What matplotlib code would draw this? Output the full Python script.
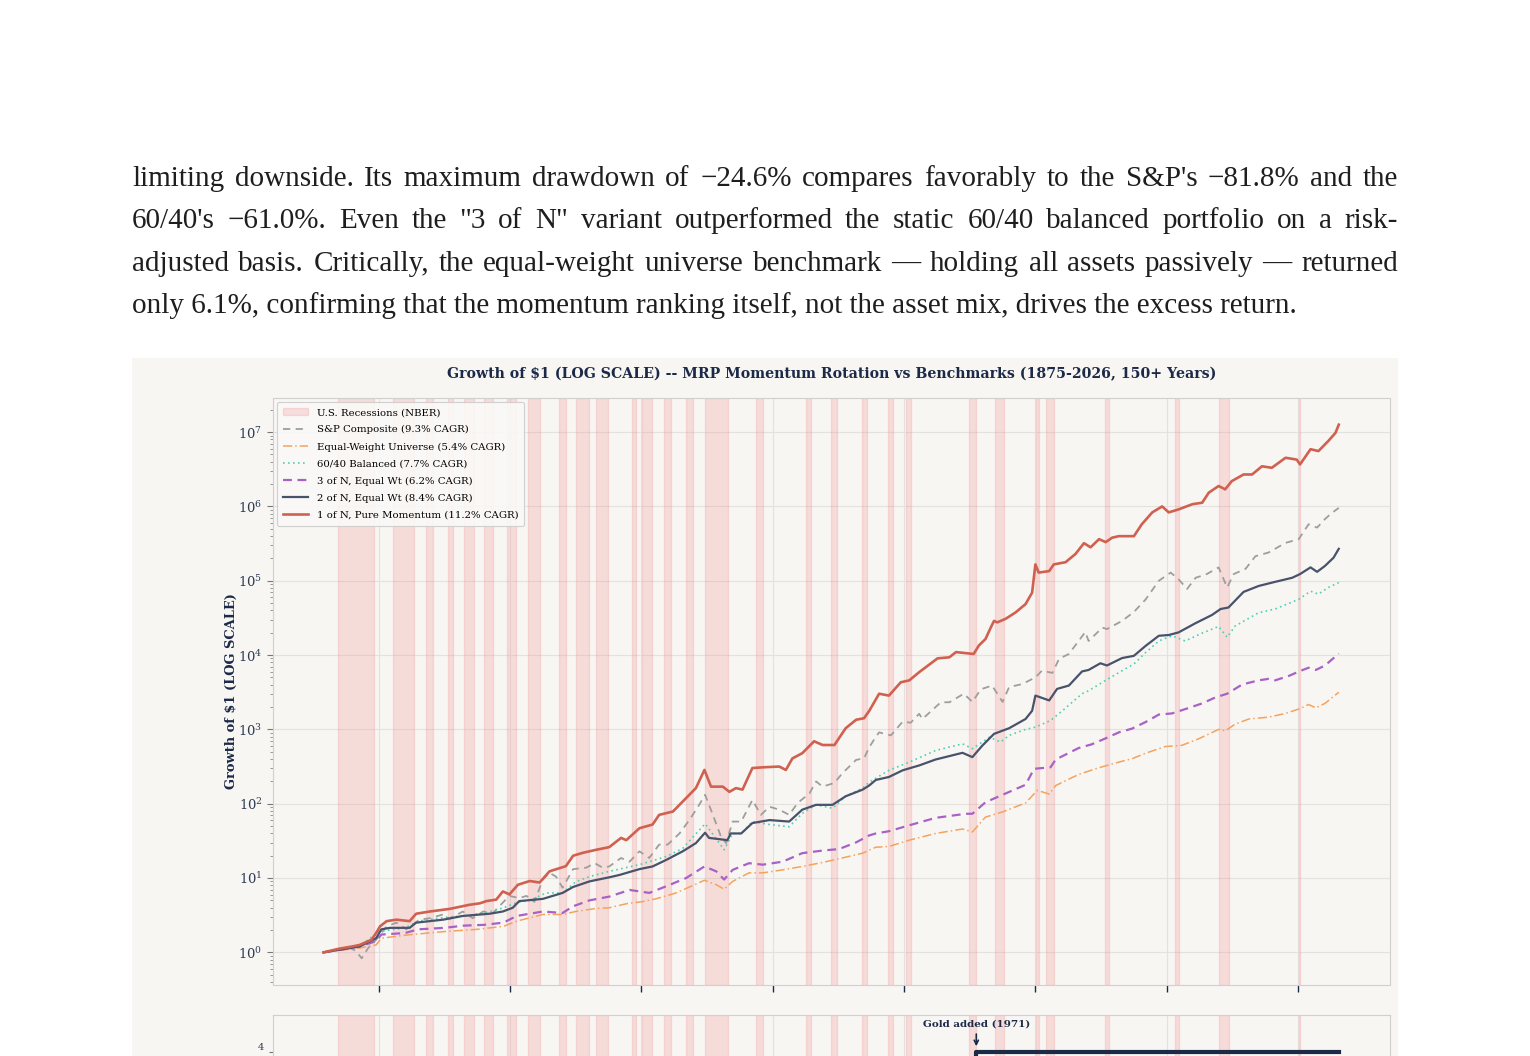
import numpy as np
import matplotlib
matplotlib.use("Agg")
import matplotlib.pyplot as plt
from matplotlib.patches import Rectangle, Patch
from matplotlib.lines import Line2D

plt.rcParams['font.family'] = ['DejaVu Serif']
plt.rcParams['mathtext.fontset'] = 'dejavuserif'

W, H = 1530, 1056

# ---- text above the chart ----
para_lines = [
    "limiting downside. Its maximum drawdown of \u221224.6% compares favorably to the S&P's \u221281.8% and the",
    "60/40's \u221261.0%. Even the \"3 of N\" variant outperformed the static 60/40 balanced portfolio on a risk-",
    "adjusted basis. Critically, the equal-weight universe benchmark \u2014 holding all assets passively \u2014 returned",
    "only 6.1%, confirming that the momentum ranking itself, not the asset mix, drives the excess return.",
]

# ---- NBER recessions (peak, trough) ----
recessions = [
    (1873.79, 1879.21), (1882.21, 1885.38), (1887.21, 1888.29), (1890.54, 1891.38),
    (1893.04, 1894.46), (1895.96, 1897.46), (1899.46, 1900.96), (1902.71, 1904.63),
    (1907.38, 1908.46), (1910.04, 1912.04), (1913.04, 1914.96), (1918.63, 1919.21),
    (1920.04, 1921.54), (1923.38, 1924.54), (1926.79, 1927.88), (1929.63, 1933.21),
    (1937.38, 1938.46), (1945.13, 1945.79), (1948.88, 1949.79), (1953.54, 1954.38),
    (1957.63, 1958.29), (1960.29, 1961.13), (1969.96, 1970.88), (1973.88, 1975.21),
    (1980.04, 1980.54), (1981.54, 1982.88), (1990.54, 1991.21), (2001.21, 2001.88),
    (2007.96, 2009.46), (2020.13, 2020.29),
]

# ---- series as log10(growth of $1) ----
red_yr = [1871.6, 1874.0, 1876.0, 1877.1, 1878.9, 1879.6, 1880.2, 1881.2, 1882.7, 1884.7,
          1885.7, 1887.8, 1890.8, 1893.8, 1895.4, 1896.4, 1897.9, 1898.9, 1899.9, 1901.2,
          1903.0, 1904.5, 1906.0, 1908.5, 1909.6, 1911.1, 1913.1, 1915.1, 1916.9, 1917.7,
          1919.7, 1921.7, 1922.7, 1924.8, 1926.3, 1928.3, 1929.6, 1930.6, 1932.4, 1933.4,
          1934.4, 1935.4, 1936.9, 1938.5, 1941.0, 1942.0, 1943.0, 1944.5, 1946.3, 1947.6,
          1949.4, 1951.1, 1952.7, 1953.9, 1954.7, 1956.2, 1957.7, 1959.5, 1960.8, 1962.3,
          1965.1, 1966.9, 1967.9, 1970.6, 1971.4, 1972.4, 1973.2, 1973.7, 1974.2, 1975.5,
          1977.0, 1978.5, 1979.5, 1980.0, 1980.5, 1982.1, 1982.8, 1984.6, 1986.1, 1987.4,
          1988.4, 1989.7, 1990.7, 1991.7, 1992.7, 1995.0, 1996.2, 1997.8, 1999.3, 2000.3,
          2001.8, 2003.9, 2005.4, 2006.4, 2007.9, 2008.9, 2009.9, 2011.7, 2013.0, 2014.5,
          2016.0, 2018.1, 2019.8, 2020.3, 2021.9, 2023.1, 2024.6, 2025.7, 2026.2]
red_log = [0.00, 0.05, 0.08, 0.10, 0.17, 0.26, 0.35, 0.42, 0.44, 0.42,
           0.52, 0.55, 0.585, 0.64, 0.66, 0.69, 0.71, 0.82, 0.78, 0.91,
           0.96, 0.94, 1.09, 1.16, 1.30, 1.34, 1.38, 1.416, 1.54, 1.51,
           1.67, 1.72, 1.85, 1.895, 2.03, 2.21, 2.455, 2.23, 2.23, 2.16,
           2.21, 2.19, 2.48, 2.49, 2.50, 2.455, 2.61, 2.68, 2.84, 2.79,
           2.79, 3.015, 3.13, 3.15, 3.25, 3.48, 3.455, 3.634, 3.66, 3.77,
           3.956, 3.97, 4.04, 4.015, 4.13, 4.216, 4.37, 4.46, 4.44, 4.49,
           4.575, 4.686, 4.84, 5.22, 5.11, 5.13, 5.22, 5.25, 5.36, 5.506,
           5.45, 5.56, 5.52, 5.58, 5.60, 5.60, 5.76, 5.92, 6.00, 5.92,
           5.96, 6.03, 6.05, 6.185, 6.275, 6.23, 6.34, 6.43, 6.43, 6.54,
           6.52, 6.655, 6.63, 6.565, 6.77, 6.745, 6.88, 6.99, 7.10]

sp_yr = [1871.6, 1873.3, 1875.6, 1876.5, 1877.4, 1878.4, 1879.6, 1881.2, 1882.7, 1884.2,
         1886.2, 1887.8, 1889.8, 1890.8, 1892.8, 1894.3, 1895.9, 1897.4, 1898.9, 1899.9,
         1901.4, 1902.5, 1903.7, 1905.0, 1906.0, 1907.0, 1908.0, 1909.6, 1911.6, 1912.9,
         1914.1, 1915.1, 1916.9, 1918.2, 1919.7, 1921.2, 1922.7, 1924.0, 1925.8, 1927.3,
         1928.8, 1929.7, 1930.8, 1932.1, 1932.9, 1933.9, 1935.2, 1936.9, 1938.2, 1939.5,
         1941.0, 1942.5, 1943.8, 1945.6, 1946.6, 1947.6, 1949.4, 1950.6, 1952.7, 1953.9,
         1954.7, 1955.7, 1956.2, 1958.0, 1959.8, 1961.0, 1962.3, 1962.8, 1965.6, 1966.9,
         1969.1, 1970.4, 1971.7, 1973.4, 1975.0, 1976.0, 1978.0, 1980.0, 1981.0, 1982.6,
         1983.6, 1985.1, 1987.6, 1988.1, 1990.2, 1990.9, 1993.2, 1995.0, 1996.8, 1998.8,
         2000.6, 2001.8, 2003.1, 2004.4, 2006.1, 2007.9, 2009.2, 2010.2, 2012.0, 2013.5,
         2015.5, 2018.1, 2020.1, 2021.6, 2022.9, 2024.1, 2025.1, 2026.2]
sp_log = [0.00, 0.04, 0.06, 0.02, -0.08, 0.06, 0.17, 0.35, 0.40, 0.31,
          0.44, 0.46, 0.51, 0.45, 0.55, 0.46, 0.55, 0.53, 0.67, 0.76,
          0.73, 0.76, 0.68, 0.98, 1.07, 1.02, 0.87, 1.12, 1.14, 1.20,
          1.14, 1.156, 1.27, 1.22, 1.36, 1.27, 1.45, 1.45, 1.60, 1.78,
          1.985, 2.12, 1.87, 1.56, 1.47, 1.76, 1.76, 2.05, 1.85, 1.96,
          1.92, 1.85, 2.01, 2.14, 2.30, 2.23, 2.28, 2.41, 2.59, 2.61,
          2.76, 2.90, 2.96, 2.92, 3.106, 3.09, 3.21, 3.14, 3.365, 3.365,
          3.48, 3.37, 3.54, 3.59, 3.37, 3.57, 3.61, 3.70, 3.79, 3.76,
          3.95, 4.015, 4.31, 4.19, 4.37, 4.35, 4.46, 4.58, 4.75, 5.00,
          5.11, 5.02, 4.89, 5.04, 5.09, 5.18, 4.91, 5.09, 5.16, 5.33,
          5.38, 5.51, 5.56, 5.76, 5.715, 5.83, 5.91, 5.98]

n2_yr = [1871.6, 1877.1, 1879.6, 1880.4, 1881.7, 1884.7, 1885.7, 1889.8, 1892.8, 1896.9,
         1898.9, 1900.4, 1901.4, 1905.0, 1908.0, 1909.6, 1912.1, 1915.1, 1916.6, 1919.7,
         1921.7, 1923.8, 1926.3, 1928.3, 1929.7, 1930.3, 1933.1, 1933.6, 1935.2, 1936.9,
         1939.5, 1942.5, 1944.5, 1946.6, 1949.1, 1951.1, 1953.7, 1954.7, 1955.7, 1957.7,
         1959.8, 1962.3, 1964.8, 1968.9, 1970.4, 1971.9, 1973.7, 1976.0, 1978.5, 1979.5,
         1980.0, 1982.1, 1983.3, 1985.1, 1987.1, 1988.1, 1989.9, 1990.9, 1993.2, 1995.0,
         1996.8, 1998.8, 2000.3, 2001.8, 2004.4, 2006.9, 2008.2, 2009.4, 2011.7, 2014.0,
         2016.5, 2019.1, 2020.3, 2021.9, 2022.9, 2024.1, 2025.4, 2026.2]
n2_log = [0.00, 0.08, 0.19, 0.31, 0.33, 0.33, 0.40, 0.44, 0.49, 0.52,
          0.55, 0.60, 0.69, 0.72, 0.80, 0.88, 0.955, 1.01, 1.04, 1.12,
          1.156, 1.245, 1.36, 1.47, 1.61, 1.54, 1.51, 1.60, 1.60, 1.74,
          1.78, 1.76, 1.92, 1.985, 1.985, 2.10, 2.19, 2.246, 2.32, 2.36,
          2.45, 2.515, 2.595, 2.685, 2.627, 2.78, 2.94, 3.016, 3.14, 3.25,
          3.455, 3.39, 3.545, 3.59, 3.78, 3.80, 3.89, 3.86, 3.96, 3.99,
          4.125, 4.26, 4.27, 4.305, 4.43, 4.54, 4.62, 4.64, 4.85, 4.93,
          4.985, 5.04, 5.09, 5.18, 5.12, 5.20, 5.31, 5.43]

bal_yr = [1871.6, 1877.1, 1880.0, 1884.0, 1886.0, 1890.0, 1894.0, 1897.0, 1899.0, 1901.0,
          1903.0, 1905.5, 1908.0, 1910.0, 1912.1, 1915.1, 1919.7, 1923.8, 1926.3, 1929.7,
          1930.8, 1932.6, 1933.9, 1935.2, 1936.9, 1939.5, 1942.5, 1944.5, 1946.6, 1949.1,
          1951.1, 1953.7, 1954.7, 1957.7, 1960.8, 1964.8, 1968.9, 1970.4, 1973.0, 1974.7,
          1976.0, 1978.5, 1980.0, 1982.3, 1984.1, 1987.1, 1988.1, 1990.7, 1993.2, 1995.0,
          1996.8, 1998.8, 2000.8, 2002.8, 2005.4, 2007.9, 2009.2, 2010.4, 2014.0, 2016.5,
          2020.1, 2021.9, 2023.1, 2024.6, 2026.2]
bal_log = [0.00, 0.08, 0.28, 0.33, 0.42, 0.47, 0.50, 0.55, 0.60, 0.67,
           0.70, 0.80, 0.80, 0.95, 1.02, 1.09, 1.18, 1.29, 1.40, 1.73,
           1.60, 1.38, 1.60, 1.60, 1.76, 1.72, 1.69, 1.87, 1.985, 1.94,
           2.10, 2.21, 2.29, 2.45, 2.56, 2.716, 2.806, 2.74, 2.895, 2.83,
           2.92, 3.00, 3.03, 3.12, 3.25, 3.48, 3.52, 3.66, 3.79, 3.88,
           4.035, 4.19, 4.26, 4.19, 4.295, 4.385, 4.24, 4.39, 4.57, 4.62,
           4.75, 4.86, 4.82, 4.91, 4.975]

n3_yr = [1871.6, 1877.1, 1879.6, 1880.4, 1884.0, 1886.0, 1890.0, 1893.0, 1896.0, 1899.0,
         1901.0, 1905.0, 1908.0, 1909.6, 1912.1, 1915.1, 1918.2, 1921.2, 1923.8, 1926.8,
         1929.6, 1931.4, 1932.6, 1933.9, 1936.4, 1938.5, 1941.5, 1944.5, 1947.6, 1950.1,
         1952.7, 1954.7, 1955.7, 1957.7, 1960.8, 1964.8, 1969.4, 1970.4, 1972.4, 1975.0,
         1978.5, 1979.8, 1982.3, 1983.1, 1986.6, 1988.6, 1990.7, 1992.7, 1994.7, 1996.8,
         1998.8, 2000.8, 2003.4, 2005.4, 2007.4, 2009.2, 2011.5, 2014.0, 2015.5, 2016.5,
         2018.6, 2020.3, 2021.6, 2022.7, 2024.1, 2026.2]
n3_log = [0.00, 0.08, 0.15, 0.24, 0.26, 0.31, 0.33, 0.36, 0.37, 0.40,
          0.49, 0.55, 0.53, 0.62, 0.70, 0.75, 0.84, 0.80, 0.89, 1.00,
          1.156, 1.09, 0.98, 1.11, 1.20, 1.18, 1.22, 1.335, 1.37, 1.39,
          1.48, 1.574, 1.60, 1.63, 1.71, 1.81, 1.865, 1.865, 2.02, 2.12,
          2.255, 2.47, 2.49, 2.595, 2.75, 2.80, 2.88, 2.96, 3.01, 3.10,
          3.20, 3.215, 3.29, 3.35, 3.43, 3.48, 3.605, 3.66, 3.68, 3.66,
          3.72, 3.785, 3.83, 3.80, 3.86, 4.02]

ew_yr = [1871.6, 1877.1, 1879.6, 1880.4, 1883.0, 1885.0, 1890.0, 1895.0, 1899.0, 1901.0,
         1905.0, 1908.0, 1910.0, 1913.0, 1915.1, 1918.0, 1920.0, 1922.2, 1925.3, 1929.6,
         1931.4, 1932.6, 1933.9, 1936.4, 1938.5, 1941.5, 1944.5, 1947.6, 1950.6, 1953.7,
         1955.7, 1957.7, 1960.8, 1964.8, 1968.9, 1970.4, 1972.4, 1975.0, 1978.5, 1980.3,
         1982.1, 1983.1, 1986.6, 1989.7, 1992.7, 1994.7, 1996.8, 1999.8, 2002.3, 2004.9,
         2007.9, 2008.9, 2010.4, 2012.5, 2015.5, 2018.1, 2020.3, 2021.6, 2022.7, 2024.1,
         2026.2]
ew_log = [0.00, 0.06, 0.10, 0.19, 0.22, 0.24, 0.28, 0.31, 0.35, 0.42,
          0.51, 0.51, 0.55, 0.59, 0.60, 0.66, 0.68, 0.72, 0.80, 0.97,
          0.91, 0.85, 0.955, 1.07, 1.07, 1.11, 1.156, 1.21, 1.27, 1.335,
          1.415, 1.425, 1.51, 1.60, 1.66, 1.62, 1.82, 1.89, 2.01, 2.18,
          2.13, 2.245, 2.395, 2.485, 2.56, 2.605, 2.68, 2.77, 2.785, 2.875,
          3.00, 2.98, 3.07, 3.14, 3.165, 3.215, 3.28, 3.335, 3.29, 3.35,
          3.50]

# universe size (bottom panel)
univ_yr = [1871.6, 1971, 2026.2]
univ_n = [3, 4, 4]

series = [
    (sp_yr, sp_log, "S&P Composite (9.3% CAGR)", dict(color='#9e9e9e', ls=(0, (4, 3)), lw=1.3)),
    (ew_yr, ew_log, "Equal-Weight Universe (5.4% CAGR)", dict(color='#f4a35e', ls=(0, (6, 2, 1, 2)), lw=1.1)),
    (bal_yr, bal_log, "60/40 Balanced (7.7% CAGR)", dict(color='#4fcfb4', ls=(0, (1, 2)), lw=1.2)),
    (n3_yr, n3_log, "3 of N, Equal Wt (6.2% CAGR)", dict(color='#a862c6', ls=(0, (4, 2.5)), lw=1.6)),
    (n2_yr, n2_log, "2 of N, Equal Wt (8.4% CAGR)", dict(color='#48536b', ls='-', lw=1.6)),
    (red_yr, red_log, "1 of N, Pure Momentum (11.2% CAGR)", dict(color='#d0604f', ls='-', lw=1.9)),
]

NAVY = '#1c2a48'
BG = '#f8f6f3'
REC = '#f08080'
REC_A = 0.22

fig = plt.figure(figsize=(W / 100, H / 100), dpi=100, facecolor='white')

# chart image background
fig.patches.append(Rectangle((132 / W, 0), 1266 / W, 1 - 358 / H, transform=fig.transFigure,
                             facecolor=BG, edgecolor='none', zorder=-5))

# ---- paragraph (justified except the last line) ----
renderer = fig.canvas.get_renderer()
probe = fig.text(0, 0, para_lines[-1], family='Liberation Serif', fontsize=20)
fs = round(20 * 1167 / probe.get_window_extent(renderer).width, 1)
probe.remove()
x0, x1 = 132, 1398
for i, line in enumerate(para_lines):
    yb = 1 - (186 + i * 42.4) / H
    if i == len(para_lines) - 1:
        fig.text(x0 / W, yb, line, family='Liberation Serif', fontsize=fs, color='#1e1e1e',
                 va='baseline')
        continue
    words = line.split(' ')
    txts = [fig.text(0, yb, w, family='Liberation Serif', fontsize=fs, color='#1e1e1e',
                     va='baseline') for w in words]
    widths = [t.get_window_extent(renderer).width for t in txts]
    gap = (x1 - x0 - sum(widths)) / (len(words) - 1)
    x = x0
    for t, wd in zip(txts, widths):
        t.set_x(x / W)
        x += wd + gap

# ---- main panel ----
ax = fig.add_axes([273 / W, 1 - 985 / H, 1117 / W, 587 / H])
ax.set_facecolor(BG)
for a, b in recessions:
    ax.axvspan(a, b, color=REC, alpha=REC_A, lw=1, zorder=1)
for yr, lg, lab, st in series:
    ax.plot(yr, 10 ** np.array(lg), label=lab, zorder=3, **st)
ax.set_yscale('log')
ax.set_xticks(range(1880, 2021, 20))
ax.tick_params(axis='x', labelbottom=False, length=5, color=NAVY, width=1)
ax.tick_params(axis='y', which='major', labelsize=9.5, labelcolor='#2c3a52', length=4, color='#777777')
ax.tick_params(axis='y', which='minor', length=2, color='#888888')
ax.grid(True, which='major', color='#e4e2df', lw=0.8, zorder=0)
ax.set_axisbelow(True)
for s in ax.spines.values():
    s.set_color('#d0d0d0')
ax.set_ylabel("Growth of $1 (LOG SCALE)", fontsize=9.4, fontweight='bold', color=NAVY)
ax.yaxis.set_label_coords(-0.031, 0.5)

handles = [Patch(facecolor=REC, alpha=REC_A, edgecolor=REC, label="U.S. Recessions (NBER)")]
handles += [Line2D([], [], label=lab, **st) for _, _, lab, st in series]
leg = ax.legend(handles=handles, loc='upper left', fontsize=7.3, frameon=True,
                facecolor='#faf9f7', edgecolor='#cccccc', framealpha=0.9, handlelength=2.5,
                labelspacing=0.79, borderpad=0.6, borderaxespad=0.4)
leg.get_frame().set_linewidth(0.8)

fig.text(831.5 / W, 1 - 374 / H,
         "Growth of $1 (LOG SCALE) -- MRP Momentum Rotation vs Benchmarks (1875-2026, 150+ Years)",
         ha='center', va='center', fontsize=10.2, fontweight='bold', color=NAVY)

# ---- bottom panel (cut off) ----
ax2 = fig.add_axes([273 / W, 1 - 1180 / H, 1117 / W, 165 / H], sharex=ax)
ax2.set_facecolor(BG)
for a, b in recessions:
    ax2.axvspan(a, b, color=REC, alpha=REC_A, lw=1, zorder=1)
ax2.step(univ_yr, univ_n, where='post', color=NAVY, lw=3, zorder=3)
ax2.set_ylim(2.0, 4.57)
ax2.set_yticks([4])
ax2.tick_params(axis='y', labelsize=7, labelcolor='#2c3a52', length=3, color='#777777')
for lab in ax2.get_yticklabels():
    lab.set_va('bottom')
ax2.tick_params(axis='x', labelbottom=False)
ax2.grid(True, axis='x', color='#e4e2df', lw=0.8)
ax2.set_axisbelow(True)
for s in ax2.spines.values():
    s.set_color('#d0d0d0')
ax2.annotate("Gold added (1971)", xy=(1971, 4.04), xytext=(1971, 4.43),
             ha='center', va='center', fontsize=7.5, fontweight='bold', color=NAVY,
             arrowprops=dict(arrowstyle='->', color=NAVY, lw=1.2))

ax.set_xlim(1863.9, 2034.0)

fig.savefig("out.png", dpi=100, facecolor='white')
